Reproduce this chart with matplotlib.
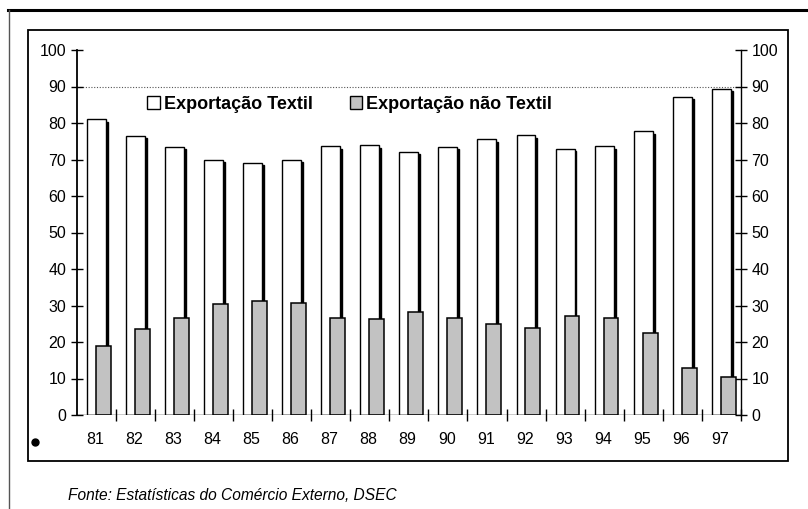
import matplotlib
matplotlib.use("Agg")
import matplotlib.pyplot as plt
from matplotlib.patches import Patch, Rectangle
from matplotlib.lines import Line2D
import numpy as np

plt.rcParams['font.family'] = ['Liberation Sans', 'DejaVu Sans']

years = ['81', '82', '83', '84', '85', '86', '87', '88', '89', '90',
         '91', '92', '93', '94', '95', '96', '97']
textil = [81.0, 76.5, 73.5, 70.0, 69.1, 69.9, 73.7, 73.9, 72.1, 73.5,
          75.5, 76.6, 73.0, 73.7, 77.8, 87.2, 89.4]
nao_textil = [19.0, 23.6, 26.7, 30.3, 31.2, 30.6, 26.7, 26.3, 28.1, 26.7,
              24.9, 23.8, 27.2, 26.7, 22.5, 12.9, 10.5]
yticks = [0, 10, 20, 30, 40, 50, 60, 70, 80, 90, 100]
legend_labels = ['Exportação Textil', 'Exportação não Textil']
source = 'Fonte: Estatísticas do Comércio Externo, DSEC'

W, H = 808, 509
fig = plt.figure(figsize=(W / 100, H / 100), dpi=100)

# outer frame lines
fig.add_artist(Line2D([8 / W, 1.0], [1 - 10 / H, 1 - 10 / H], color='black', lw=2.2))
fig.add_artist(Line2D([9 / W, 9 / W], [1 - 10 / H, 0], color='#555555', lw=1.0))
# inner box
fig.add_artist(Rectangle((28 / W, 1 - 461 / H), (788 - 28) / W, (461 - 30) / H,
                         fill=False, edgecolor='black', lw=1.3))

ax = fig.add_axes([76.7 / W, 1 - 415 / H, (741 - 76.7) / W, (415 - 50) / H])
ax.set_xlim(0, len(years))
ax.set_ylim(0, 100)

x = np.arange(len(years))
w_white = 0.485
w_gray = 0.38
# shadow lines behind white bars
ax.bar(x + 0.255 + 0.05, np.array(textil) - 0.7, width=w_white, align='edge',
       color='black', edgecolor='black', lw=1.0, zorder=2)
ax.bar(x + 0.255, textil, width=w_white, align='edge',
       color='white', edgecolor='black', lw=1.0, zorder=3)
ax.bar(x + 0.485, nao_textil, width=w_gray, align='edge',
       color='#c2c2c2', edgecolor='black', lw=1.1, zorder=4)

# dotted line at 90
ax.axhline(90, color='#555555', lw=0.8, ls=(0, (1, 1.5)), zorder=1)

ax.spines['top'].set_visible(False)
ax.spines['bottom'].set_visible(False)
ax.axhline(0, color='black', lw=1.0, zorder=5)
ax.spines['left'].set_linewidth(1.3)
ax.spines['right'].set_linewidth(1.0)

ax.set_yticks(yticks)
ax.set_yticklabels([str(v) for v in yticks])
ax.tick_params(axis='y', which='both', direction='inout', length=9, width=1.0,
               labelsize=11.5, left=True, right=True, labelleft=True, labelright=True, pad=3)

ax.set_xticks(np.arange(1, len(years) + 1))
ax.set_xticklabels([])
ax.tick_params(axis='x', direction='inout', length=9, width=1.0)
for i, lab in enumerate(years):
    ax.text(i + 0.47, -4.6, lab, ha='center', va='top', fontsize=11.5,
            transform=ax.transData, clip_on=False)

handles = [Patch(facecolor='white', edgecolor='black', lw=1.0),
           Patch(facecolor='#c2c2c2', edgecolor='black', lw=1.0)]
leg = ax.legend(handles, legend_labels, ncol=2, frameon=False,
                loc='upper left', bbox_to_anchor=(0.0955, 0.895),
                prop={'weight': 'bold', 'size': 13},
                handlelength=0.7, handleheight=0.7, handletextpad=0.2,
                columnspacing=2.05, borderaxespad=0)

# bullet
fig.add_artist(Line2D([35 / W], [1 - 442 / H], marker='o', color='black', ms=5))

fig.text(68 / W, 1 - 495 / H, source, fontsize=11.2, style='italic', va='center', ha='left')

fig.savefig('out.png', dpi=100)
